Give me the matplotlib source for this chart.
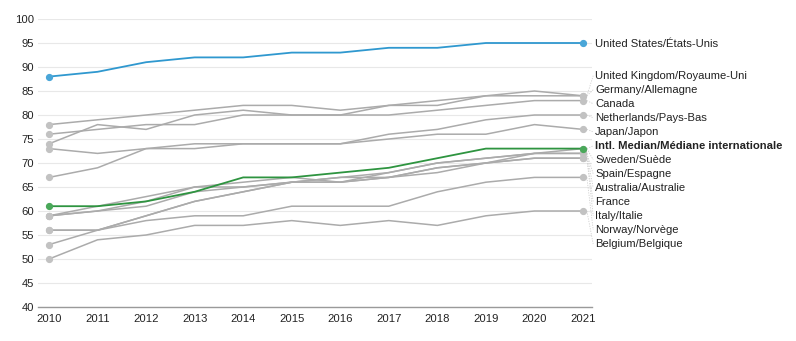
import matplotlib.pyplot as plt
import numpy as np

plt.rcParams['font.family'] = ['Liberation Sans', 'DejaVu Sans']

years = list(range(2010, 2022))

usa = [88, 89, 91, 92, 92, 93, 93, 94, 94, 95, 95, 95]
median = [61, 61, 62, 64, 67, 67, 68, 69, 71, 73, 73, 73]

# other countries, listed in label order (top to bottom)
countries = [
    "United Kingdom/Royaume-Uni",
    "Germany/Allemagne",
    "Canada",
    "Netherlands/Pays-Bas",
    "Japan/Japon",
    "Sweden/Suède",
    "Spain/Espagne",
    "Australia/Australie",
    "France",
    "Italy/Italie",
    "Norway/Norvège",
    "Belgium/Belgique",
]
uk = [78, 79, 80, 81, 82, 82, 81, 82, 83, 84, 85, 84]
germany = [74, 78, 77, 80, 81, 80, 80, 82, 82, 84, 84, 84]
canada = [76, 77, 78, 78, 80, 80, 80, 80, 81, 82, 83, 83]
netherlands = [67, 69, 73, 74, 74, 74, 74, 76, 77, 79, 80, 80]
japan = [73, 72, 73, 73, 74, 74, 74, 75, 76, 76, 78, 77]
sweden = [59, 61, 63, 65, 65, 66, 66, 68, 70, 71, 72, 73]
spain = [59, 60, 61, 64, 65, 66, 67, 67, 69, 70, 72, 72]
australia = [53, 56, 59, 62, 64, 66, 67, 68, 70, 71, 72, 72]
france = [59, 60, 62, 65, 66, 67, 66, 67, 68, 70, 71, 71]
italy = [56, 56, 59, 62, 64, 66, 66, 67, 69, 70, 71, 71]
norway = [56, 56, 58, 59, 59, 61, 61, 61, 64, 66, 67, 67]
belgium = [50, 54, 55, 57, 57, 58, 57, 58, 57, 59, 60, 60]
series = [uk, germany, canada, netherlands, japan, sweden, spain,
          australia, france, italy, norway, belgium]

median_label = "Intl. Median/Médiane internationale"
usa_label = "United States/États-Unis"

grey = "#ababab"
blue = "#2f98cf"
green = "#2e9440"
text_col = "#222222"
fs = 8.1

fig = plt.figure(figsize=(7.96, 3.41), dpi=100)
ax = fig.add_axes([38 / 796, 34 / 341, 554 / 796, 288 / 341])

for s in series:
    ax.plot(years, s, color=grey, lw=1.1, zorder=2, clip_on=False)
    ax.plot([years[0], years[-1]], [s[0], s[-1]], 'o', color="#c2c2c2",
            ms=4.2, zorder=3, clip_on=False)

ax.plot(years, median, color=green, lw=1.3, zorder=4, clip_on=False)
ax.plot([years[0], years[-1]], [median[0], median[-1]], 'o', color="#4aa85a",
        ms=4.2, zorder=5, clip_on=False)
ax.plot(years, usa, color=blue, lw=1.3, zorder=4, clip_on=False)
ax.plot([years[0], years[-1]], [usa[0], usa[-1]], 'o', color="#4aa6d8",
        ms=4.2, zorder=5, clip_on=False)

# right-hand labels: stacked with a fixed gap, anchored on Japan's end value
names = countries[:5] + [median_label] + countries[5:]
ends = [s[-1] for s in series[:5]] + [median[-1]] + [s[-1] for s in series[5:]]
gap = 2.92
anchor = names.index("Japan/Japon")
label_y = [ends[anchor] - 0.5 + (anchor - i) * gap for i in range(len(names))]

x_lab = 2021.25
for name, yv, yl in zip(names, ends, label_y):
    ax.plot([2021.08, x_lab - 0.04], [yv, yl], color="#d0d0d0", lw=0.6,
            ls=(0, (1.5, 1.5)), clip_on=False, zorder=1)
    bold = name == median_label
    ax.text(x_lab, yl, name, fontsize=fs, color=text_col, va='center',
            ha='left', fontweight='bold' if bold else 'normal')
ax.text(x_lab, usa[-1] - 0.3, usa_label, fontsize=fs, color=text_col,
        va='center', ha='left')

ax.set_xlim(2010 - 11 / 48.55, 2021 + 9 / 48.55)
ax.set_ylim(40, 100)
ax.set_xticks(years)
ax.set_yticks(np.arange(40, 101, 5))
ax.tick_params(axis='both', length=0, labelsize=fs, labelcolor=text_col)
ax.tick_params(axis='x', pad=5)
ax.tick_params(axis='y', pad=3)
ax.yaxis.grid(True, color="#e8e8e8", lw=0.8)
ax.set_axisbelow(True)
for side in ['top', 'right', 'left']:
    ax.spines[side].set_visible(False)
ax.spines['bottom'].set_color("#9a9a9a")
ax.spines['bottom'].set_linewidth(1.0)

plt.savefig("out.png", dpi=100)
